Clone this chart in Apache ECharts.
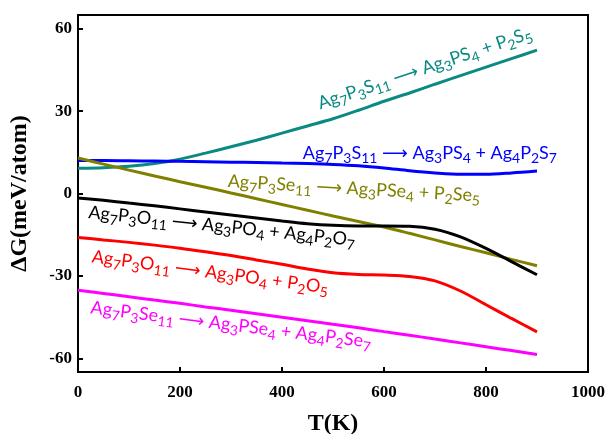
<!DOCTYPE html>
<html><head><meta charset="utf-8">
<script src="https://cdn.jsdelivr.net/npm/echarts@6/dist/echarts.min.js"></script>
<style>html,body{margin:0;padding:0;background:#fff}#c{width:606px;height:434px}</style>
</head><body><div id="c"></div>
<script>
// Temperature (K)
const temps = [0,50,100,150,200,250,300,350,400,450,500,550,600,650,700,750,800,850,900];
// ΔG (meV/atom)
const sTeal    = [9.2, 9.4, 9.9, 10.9, 12.5, 14.7, 17.0, 19.4, 22.0, 24.6, 27.2, 30.3, 33.6, 36.6, 39.8, 42.9, 46.0, 49.1, 52.2];
const sBlue    = [12.0, 12.0, 11.9, 11.8, 11.7, 11.6, 11.4, 11.3, 11.1, 10.9, 10.6, 10.1, 9.3, 8.3, 7.5, 7.0, 7.0, 7.5, 8.2];
const seOlive  = [12.9, 10.7, 8.5, 6.4, 4.3, 2.3, 0.2, -1.9, -4.0, -6.1, -8.2, -10.2, -12.2, -14.5, -16.9, -19.3, -21.6, -24.0, -26.3];
const oBlack   = [-1.6, -2.5, -3.5, -4.5, -5.6, -6.7, -7.8, -8.9, -10.0, -11.0, -11.6, -11.8, -11.8, -11.9, -13.0, -15.8, -20.0, -24.8, -29.6];
const oRed     = [-16.0, -16.9, -17.8, -18.8, -19.9, -21.2, -22.6, -24.2, -25.8, -27.5, -28.9, -29.5, -29.7, -30.2, -31.8, -35.5, -40.5, -45.5, -50.4];
const seMag    = [-35.2, -36.4, -37.6, -38.8, -40.0, -41.3, -42.5, -43.8, -45.1, -46.3, -47.6, -48.9, -50.3, -51.6, -53.0, -54.4, -55.8, -57.2, -58.6];
const yTicks = [-60, -30, 0, 30, 60];

const lines = [
  {name:'Ag7P3S11 -> Ag3PS4 + P2S5', data:sTeal, color:'#0a8a82'},
  {name:'Ag7P3S11 -> Ag3PS4 + Ag4P2S7', data:sBlue, color:'#0000ff'},
  {name:'Ag7P3Se11 -> Ag3PSe4 + P2Se5', data:seOlive, color:'#808000'},
  {name:'Ag7P3O11 -> Ag3PO4 + Ag4P2O7', data:oBlack, color:'#000000'},
  {name:'Ag7P3O11 -> Ag3PO4 + P2O5', data:oRed, color:'#ff0000'},
  {name:'Ag7P3Se11 -> Ag3PSe4 + Ag4P2Se7', data:seMag, color:'#ff00ff'}
];

// annotation labels: text, colour, anchor (T, ΔG) of text centre, rotation (deg)
const notes = [
  {text:'Ag_7P_3S_11 ⟶ Ag_3PS_4 + P_2S_5', color:'#0a8a82', T:680, v:45.6, rot:18.5},
  {text:'Ag_7P_3S_11 ⟶ Ag_3PS_4 + Ag_4P_2S_7', color:'#0000ff', T:690, v:14.8, rot:0},
  {text:'Ag_7P_3Se_11 ⟶ Ag_3PSe_4 + P_2Se_5', color:'#808000', T:541, v:1.8, rot:-3.3},
  {text:'Ag_7P_3O_11 ⟶ Ag_3PO_4 + Ag_4P_2O_7', color:'#000000', T:282, v:-11.9, rot:-6},
  {text:'Ag_7P_3O_11 ⟶ Ag_3PO_4 + P_2O_5', color:'#ff0000', T:259, v:-28.6, rot:-7.5},
  {text:'Ag_7P_3Se_11 ⟶ Ag_3PSe_4 + Ag_4P_2Se_7', color:'#ff00ff', T:300, v:-47.8, rot:-7}
];

const serif = '"Liberation Serif","Times New Roman",serif';
const chart = echarts.init(document.getElementById('c'), null, {renderer:'canvas'});
chart.setOption({
  animation:false,
  backgroundColor:'#fff',
  grid:{left:78, right:18, top:15, bottom:62, show:true, borderColor:'#000', borderWidth:2,
    containLabel:false, outerBoundsMode:'none'},
  xAxis:{type:'value', min:0, max:1000, interval:200,
    name:'T(K)', nameLocation:'middle', nameGap:40,
    nameTextStyle:{fontFamily:serif, fontWeight:'bold', fontSize:24, color:'#000'},
    axisLine:{onZero:false, lineStyle:{color:'#000', width:2}},
    axisTick:{inside:true, length:5, lineStyle:{color:'#000', width:2}},
    axisLabel:{fontFamily:serif, fontWeight:'bold', fontSize:17, color:'#000', margin:12,
      showMinLabel:true, showMaxLabel:true, formatter: v => String(v)},
    splitLine:{show:false}},
  yAxis:{type:'value', min:-65, max:65,
    name:'ΔG(meV/atom)', nameLocation:'middle', nameGap:46,
    nameTextStyle:{fontFamily:serif, fontWeight:'bold', fontSize:24, color:'#000'},
    axisLine:{onZero:false, lineStyle:{color:'#000', width:2}},
    axisTick:{inside:true, length:5, lineStyle:{color:'#000', width:2}, customValues:yTicks},
    axisLabel:{fontFamily:serif, fontWeight:'bold', fontSize:17, color:'#000', margin:6, customValues:yTicks,
      formatter: v => String(v)},
    splitLine:{show:false}},
  series: lines.map(l => ({
    name:l.name, type:'line', smooth:0.3, showSymbol:false, symbol:'none',
    data: temps.map((t,i)=>[t, l.data[i]]),
    lineStyle:{color:l.color, width:3}, itemStyle:{color:l.color}
  }))
});

function toRich(str){
  return str.split(/(_\d+)/).filter(p=>p.length).map(p => p[0]==='_' ? '{s|'+p.slice(1)+'}' : '{m|'+p+'}').join('');
}
const sans = 'Lato, "DejaVu Sans", sans-serif';
const graphics = notes.map(n => {
  const p = chart.convertToPixel({gridIndex:0}, [n.T, n.v]);
  return {
    type:'text', x:p[0], y:p[1], rotation:n.rot*Math.PI/180, z:100,
    style:{
      text: toRich(n.text), fill:n.color, align:'center', verticalAlign:'middle',
      rich:{
        m:{fontSize:18, fontFamily:sans, fill:n.color, lineHeight:25, verticalAlign:'middle'},
        s:{fontSize:14, fontFamily:sans, fill:n.color, lineHeight:14, verticalAlign:'bottom'}
      }
    }
  };
});
chart.setOption({graphic: graphics});
</script></body></html>
